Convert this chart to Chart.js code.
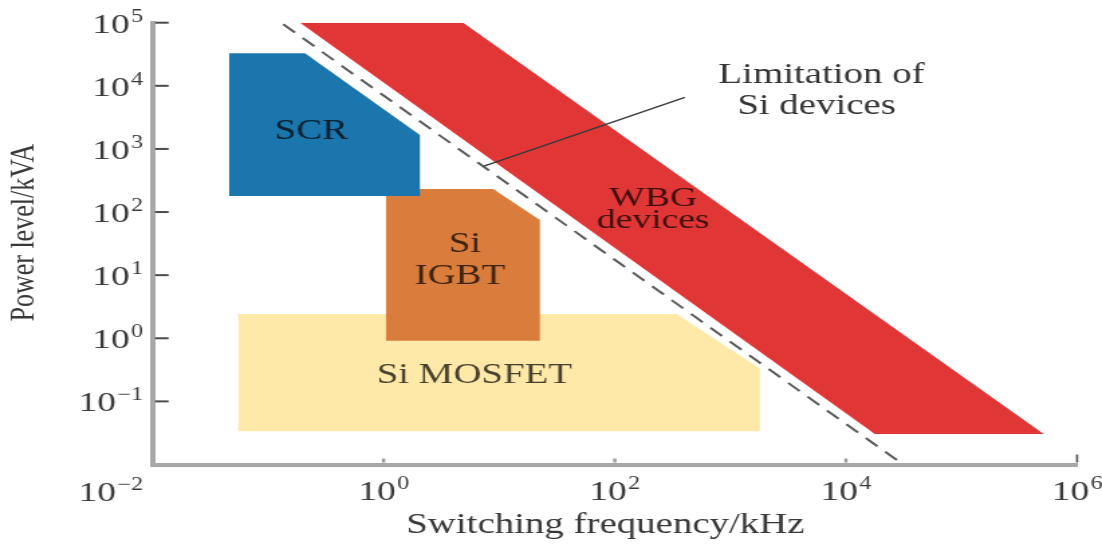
<!DOCTYPE html>
<html>
<head>
<meta charset="utf-8">
<title>Power level vs switching frequency</title>
<script src="https://cdn.jsdelivr.net/npm/chart.js@4.4.1/dist/chart.umd.min.js"></script>
<style>
  html, body { margin: 0; padding: 0; background: #fff; overflow: hidden; }
  /* the original figure is stretched sideways, so draw narrow and widen */
  #wrap { width: 822px; height: 544px; transform: scaleX(1.3406); transform-origin: 0 0; }
</style>
</head>
<body>
<div id="wrap"><canvas id="deviceChart"></canvas></div>
<script>
// region outlines, switching frequency (kHz) / power level (kVA)
const scrFreq = [0.0461, 0.2085, 2.06, 2.06, 0.0461, 0.0461];
const scrPower = [32700, 32700, 1660, 179, 179, 32700];
const igbtFreq = [1.047, 8.87, 22.5, 22.5, 1.047, 1.047];
const igbtPower = [231, 231, 74.6, 0.912, 0.912, 231];
const mosfetFreq = [0.0552, 343, 1800, 1800, 0.0552, 0.0552];
const mosfetPower = [2.42, 2.42, 0.333, 0.0335, 0.0335, 2.42];
const wbgFreq = [0.189, 4.88, 515000, 17800, 0.189];
const wbgPower = [100000, 100000, 0.0303, 0.0303, 100000];

// limitation of Si devices (dashed) and the pointer to it
const siLimitFreq = [0.1353, 30300];
const siLimitPower = [94400, 0.0104];
const pointerFreq = [404, 7.38];
const pointerPower = [6570, 536];

// axes
const xTickValues = [1e-2, 1e0, 1e2, 1e4, 1e6];
const yTickValues = [1e-2, 1e-1, 1e0, 1e1, 1e2, 1e3, 1e4, 1e5];

// text inside the plot, anchored in data units
const labelTexts = ['SCR', 'Si', 'IGBT', 'Si MOSFET', 'WBG', 'devices', 'Limitation of', 'Si devices'];
const labelFreq = [0.2366, 5.05, 4.57, 6.10, 215, 215, 6150, 5570];
const labelPower = [1874, 31.1, 9.44, 0.261, 165, 73.3, 14800, 4660];

const FONT = '"Liberation Serif", "Times New Roman", serif';

function toPoints(xs, ys) {
    return xs.map((x, i) => ({ x: x, y: ys[i] }));
}

function region(data, color) {
    return {
        data: data,
        backgroundColor: color,
        borderWidth: 0,
        fill: 'shape',
        pointRadius: 0
    };
}

// "10" with a raised exponent
function drawPower(ctx, exp, x, y, align) {
    const base = '10';
    const sup = exp < 0 ? '\u2212' + Math.abs(exp) : String(exp);
    ctx.font = '28px ' + FONT;
    const wb = ctx.measureText(base).width;
    ctx.font = '18px ' + FONT;
    const ws = ctx.measureText(sup).width;
    const total = wb + 1 + ws;
    const x0 = align === 'right' ? x - total : x - total / 2;
    ctx.textAlign = 'left';
    ctx.textBaseline = 'alphabetic';
    ctx.font = '28px ' + FONT;
    ctx.fillText(base, x0, y);
    ctx.font = '18px ' + FONT;
    ctx.fillText(sup, x0 + wb + 1, y - 11);
}

const figureText = {
    id: 'figureText',
    afterDraw(chart) {
        const ctx = chart.ctx;
        const xs = chart.scales.x;
        const ys = chart.scales.y;
        const area = chart.chartArea;
        ctx.save();

        // tick marks
        ctx.strokeStyle = '#4a4a4a';
        ctx.lineWidth = 2;
        yTickValues.slice(1).forEach(v => {
            const py = ys.getPixelForValue(v);
            ctx.beginPath();
            ctx.moveTo(area.left + 2, py);
            ctx.lineTo(area.left + 12, py);
            ctx.stroke();
        });
        xTickValues.slice(1).forEach((v, i, arr) => {
            const px = xs.getPixelForValue(v);
            const last = i === arr.length - 1;
            ctx.strokeStyle = last ? '#555' : '#9c9c9c';
            ctx.lineWidth = last ? 1.6 : 2.4;
            ctx.beginPath();
            ctx.moveTo(px, area.bottom - 2);
            ctx.lineTo(px, area.bottom - (last ? 10 : 6));
            ctx.stroke();
        });

        // tick labels
        ctx.fillStyle = '#3a3a3a';
        yTickValues.slice(1).forEach(v => {
            drawPower(ctx, Math.round(Math.log10(v)), area.left - 7, ys.getPixelForValue(v) + 10, 'right');
        });
        xTickValues.slice(1).forEach(v => {
            drawPower(ctx, Math.round(Math.log10(v)), xs.getPixelForValue(v), 500, 'center');
        });
        // shared corner label
        drawPower(ctx, Math.round(Math.log10(yTickValues[0])), area.left - 7, 501, 'right');

        // axis titles
        ctx.fillStyle = '#383838';
        ctx.textAlign = 'center';
        ctx.textBaseline = 'middle';
        ctx.font = '29px ' + FONT;
        ctx.fillText('Switching frequency/kHz', (area.left + area.right) / 2 - 7, 525);
        ctx.save();
        ctx.translate(18, (area.top + area.bottom) / 2 - 11);
        ctx.rotate(-Math.PI / 2);
        ctx.font = '26px ' + FONT;
        ctx.fillText('Power level/kVA', 0, 0);
        ctx.restore();

        // region labels
        labelTexts.forEach((t, i) => {
            const px = xs.getPixelForValue(labelFreq[i]);
            const py = ys.getPixelForValue(labelPower[i]);
            const onWhite = i >= 6;
            ctx.fillStyle = onWhite ? '#353535' : 'rgba(0, 0, 0, 0.72)';
            ctx.font = (i === 4 || i === 5 ? '28px ' : '29px ') + FONT;
            ctx.fillText(t, px, py);
        });
        ctx.restore();
    }
};

const deviceChart = new Chart(document.getElementById('deviceChart'), {
    type: 'line',
    data: {
        datasets: [
            {
                data: toPoints(pointerFreq, pointerPower),
                borderColor: '#3a3a3a',
                borderWidth: 1.4,
                fill: false,
                pointRadius: 0
            },
            {
                data: toPoints(siLimitFreq, siLimitPower),
                borderColor: '#5a5a5a',
                borderWidth: 2,
                borderDash: [12, 8],
                fill: false,
                pointRadius: 0
            },
            region(toPoints(scrFreq, scrPower), '#1a76ad'),
            region(toPoints(wbgFreq, wbgPower), '#e13636'),
            region(toPoints(igbtFreq, igbtPower), '#da7d3c'),
            region(toPoints(mosfetFreq, mosfetPower), '#fee9a8')
        ]
    },
    options: {
        responsive: true,
        maintainAspectRatio: false,
        animation: false,
        events: [],
        layout: {
            padding: { left: 0, right: 18.6, top: 22.7, bottom: 0 }
        },
        plugins: {
            legend: { display: false },
            tooltip: { enabled: false }
        },
        scales: {
            x: {
                type: 'logarithmic',
                min: 1e-2,
                max: 1e6,
                afterBuildTicks: s => { s.ticks = xTickValues.map(v => ({ value: v })); },
                afterFit: s => { s.height = 79.5; },
                ticks: { display: false },
                grid: { display: false },
                border: { display: true, color: '#a8a8a8', width: 4 }
            },
            y: {
                type: 'logarithmic',
                min: 1e-2,
                max: 1e5,
                afterBuildTicks: s => { s.ticks = yTickValues.map(v => ({ value: v })); },
                afterFit: s => { s.width = 113.75; },
                ticks: { display: false },
                grid: { display: false },
                border: { display: true, color: '#a8a8a8', width: 4 }
            }
        }
    },
    plugins: [figureText]
});
</script>
</body>
</html>
